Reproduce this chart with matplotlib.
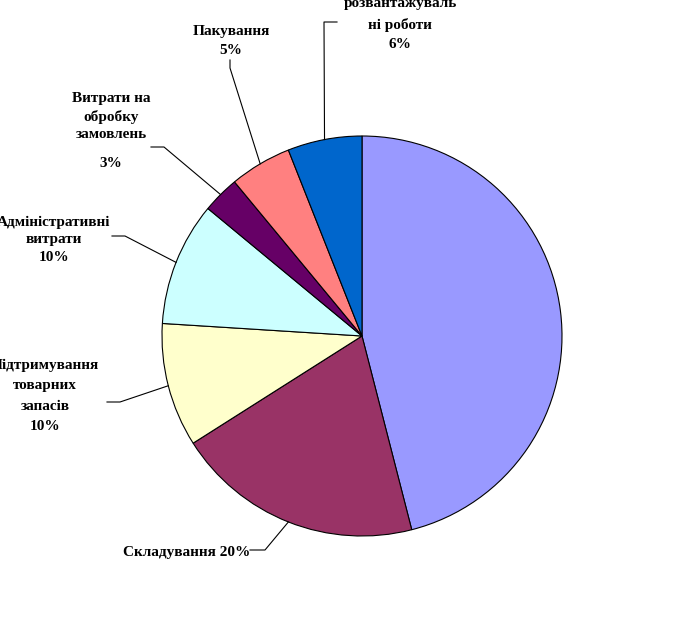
import matplotlib
matplotlib.use("Agg")
import matplotlib.pyplot as plt
import numpy as np

labels = ["Транспортування", "Складування 20%", "Підтримування\nтоварних\nзапасів\n10%",
          "Адміністративні\nвитрати\n10%", "Витрати на\nобробку\nзамовлень\n\n3%",
          "Пакування\n5%", "Навантажувально-\nрозвантажуваль\nні роботи\n6%"]
values = [46, 20, 10, 10, 3, 5, 6]
colors = ["#9999FF", "#993366", "#FFFFCC", "#CCFFFF", "#660066", "#FF8080", "#0066CC"]

W, H = 686, 626
fig = plt.figure(figsize=(W / 100, H / 100), dpi=100)
ax = fig.add_axes([0, 0, 1, 1])

cx, cy, r = 362, H - 336, 200
wedges, _ = ax.pie(values, colors=colors, startangle=90, counterclock=False,
                   center=(cx, cy), radius=r,
                   wedgeprops=dict(edgecolor="black", linewidth=0.8))
ax.set_xlim(0, W)
ax.set_ylim(0, H)
ax.set_aspect("equal")
ax.axis("off")

# label: text centre x, bottom y, linespacing, leader stub (pixels from top)
lab_pos = {
    1: (187, 559, 1.5, (250, 550), (265, 550)),
    2: (45, 433, 1.75, (107, 402), (120, 402)),
    3: (54, 264, 1.45, (112, 236), (125, 236)),
    4: (111, 141, 1.45, (151, 147), (164, 147)),
    5: (231, 57, 1.55, (230, 60), (230, 68)),
    6: (400, 51, 1.65, (337, 22), (324, 22)),
}

font = dict(family="Liberation Serif", weight="bold", size=11, color="black")

for i, (tx, ty, ls, s0, s1) in lab_pos.items():
    w = wedges[i]
    ang = np.deg2rad((w.theta1 + w.theta2) / 2)
    ex, ey = cx + r * np.cos(ang), cy + r * np.sin(ang)
    ax.plot([s0[0], s1[0], ex], [H - s0[1], H - s1[1], ey], color="black", lw=0.8)
    txt = labels[i]
    if "\n\n" in txt:
        txt, pct = txt.split("\n\n")
        ax.text(tx, H - 170, pct, ha="center", va="bottom", **font)
    ax.text(tx, H - ty, txt, ha="center", va="bottom", multialignment="center",
            linespacing=ls, **font)

fig.savefig("out.png", dpi=100)
